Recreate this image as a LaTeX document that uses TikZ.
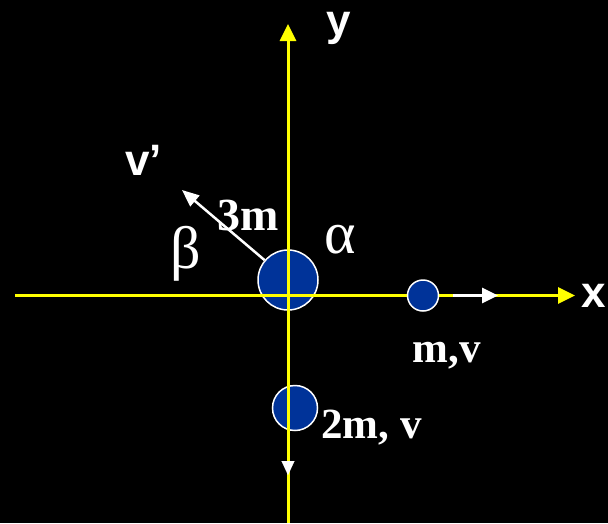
\documentclass[tikz,border=0pt]{standalone}
\usepackage{fontspec}
\setmainfont{Liberation Serif}
\newfontfamily\sansbold{Liberation Sans}[BoldFont={* Bold}]
\usetikzlibrary{arrows.meta}
\definecolor{ballblue}{RGB}{0,51,153}
\definecolor{axisyellow}{RGB}{255,255,0}
\tikzset{
  ball/.style={circle, draw=white, line width=1.5pt, fill=ballblue, inner sep=0pt},
  axis/.style={draw=axisyellow, line width=3pt, -{Triangle[length=17pt,width=16pt]}},
  velarrow/.style={draw=white, line width=3pt, -{Triangle[length=16pt,width=15pt]}},
  axislabel/.style={text=white, font=\sansbold\bfseries\fontsize{44}{50}\selectfont, inner sep=0pt},
  masslabel/.style={text=white, font=\bfseries\fontsize{43}{50}\selectfont, inner sep=0pt},
  greeklabel/.style={text=white, font=\fontsize{60}{66}\selectfont, inner sep=0pt}
}
\begin{document}
\begin{tikzpicture}[x=1pt,y=-1pt]
\path[use as bounding box, fill=black] (0,0) rectangle (608,523);
% balls under the axes
\node[ball, minimum size=60pt] (big) at (288,280) {};
\node[ball, minimum size=45pt] (mid) at (295,408) {};
% axes
\coordinate (xstart) at (15,295.5);
\coordinate (xend) at (575,295.5);
\coordinate (ystart) at (288,523);
\coordinate (yend) at (288,24);
\draw[axis] (xstart) -- (xend);
\draw[axis] (ystart) -- (yend);
% small ball above the axis
\node[ball, minimum size=31pt] (small) at (423,295.5) {};
% velocity arrows
\coordinate (va) at (453,295.5);
\coordinate (vb) at (498,295.5);
\draw[velarrow] (va) -- (vb);
\coordinate (vtip) at (182,190);
\draw[draw=white, line width=2.5pt, -{Triangle[length=17pt,width=14pt]}] (big) -- (vtip);
\coordinate (da) at (288,461);
\coordinate (db) at (288,475);
\draw[draw=white, line width=0.1pt, -{Triangle[length=14pt,width=13pt]}] (da) -- (db);
% labels
\node[axislabel, anchor=base] (xl) at (594,307) {x};
\node[axislabel, anchor=base] (yl) at (339,35) {y};
\node[axislabel, anchor=base west] (vl) at (125,175) {v’};
\node[masslabel, anchor=base, font=\bfseries\fontsize{46}{50}\selectfont] (ml3) at (248,230) {3m};
\node[masslabel, anchor=base] (ml1) at (446.5,362) {m,v};
\node[masslabel, anchor=base] (ml2) at (371.5,438) {2m, v};
\node[greeklabel] (al) at (340,240) {α};
\node[greeklabel] (bl) at (185.5,254) {β};
\end{tikzpicture}
\end{document}
